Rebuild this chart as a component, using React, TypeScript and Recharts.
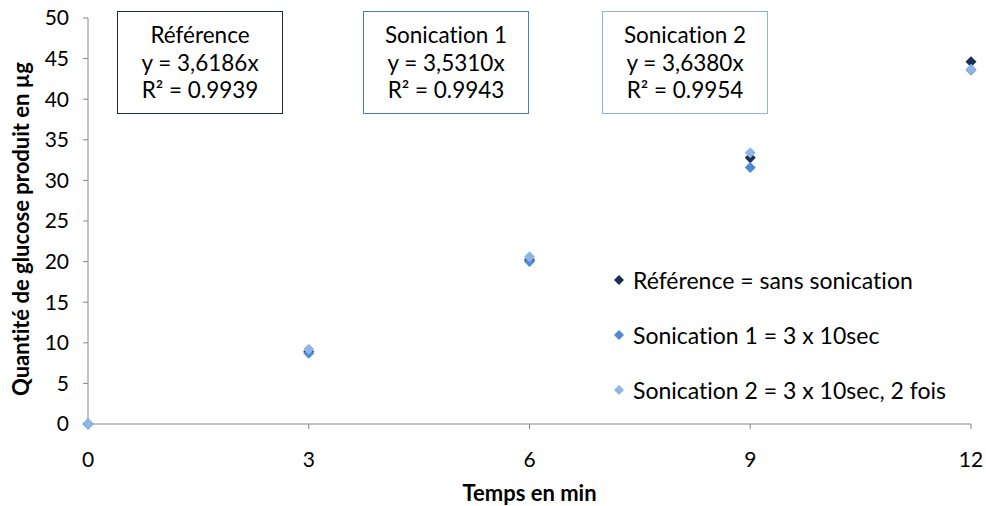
import React from 'react';
import { ScatterChart, Scatter, XAxis, YAxis } from 'recharts';

const times = [0, 3, 6, 9, 12];
const referenceValues = [0, 8.9, 20.2, 32.8, 44.6];
const sonication1Values = [0, 8.7, 20.0, 31.6, 43.6];
const sonication2Values = [0, 9.2, 20.6, 33.4, 43.7];
const xTicks = [0, 3, 6, 9, 12];
const yTicks = [0, 5, 10, 15, 20, 25, 30, 35, 40, 45, 50];

const seriesNames = [
  'Référence = sans sonication',
  'Sonication 1 = 3 x 10sec',
  'Sonication 2 = 3 x 10sec, 2 fois',
];
const seriesColors = ['#17305a', '#4f88d6', '#8fb5e4'];

const boxes = [
  { title: 'Référence', eq: 'y = 3,6186x', r2: 'R² = 0.9939', border: '#1f2a3c', left: 117 },
  { title: 'Sonication 1', eq: 'y = 3,5310x', r2: 'R² = 0.9943', border: '#4a7ebb', left: 363 },
  { title: 'Sonication 2', eq: 'y = 3,6380x', r2: 'R² = 0.9954', border: '#8db3e2', left: 602 },
];

const toPoints = (vals: number[]) => times.map((t, i) => ({ x: t, y: vals[i] }));

const FONT = 'Lato, "Open Sans", sans-serif';

const Diamond = (props: any) => {
  const { cx, cy, fill } = props;
  const r = 5.5;
  return (
    <polygon
      points={`${cx},${cy - r} ${cx + r},${cy} ${cx},${cy + r} ${cx - r},${cy}`}
      fill={fill}
    />
  );
};

export default function App() {
  const allSeries = [referenceValues, sonication1Values, sonication2Values];
  return (
    <div
      style={{
        position: 'absolute',
        left: 0,
        top: 0,
        width: 986,
        height: 506,
        background: '#fff',
        fontVariantLigatures: 'none',
      }}
    >
      <ScatterChart width={986} height={506} margin={{ top: 18, right: 15, bottom: 0, left: 0 }}>
        <XAxis
          type="number"
          dataKey="x"
          domain={[0, 12]}
          ticks={xTicks}
          interval={0}
          height={82}
          axisLine={{ stroke: '#868686' }}
          tickLine={{ stroke: '#868686' }}
          tickSize={5}
          tickMargin={23}
          tick={{ fill: '#000', fontSize: 21, fontFamily: FONT }}
          label={{
            value: 'Temps en min',
            position: 'insideBottom',
            offset: 5,
            style: { fill: '#000', fontSize: 22, fontWeight: 'bold', fontFamily: FONT },
          }}
        />
        <YAxis
          type="number"
          dataKey="y"
          domain={[0, 50]}
          ticks={yTicks}
          interval={0}
          width={88}
          axisLine={{ stroke: '#868686' }}
          tickLine={{ stroke: '#868686' }}
          tickSize={5}
          tickMargin={14}
          tick={{ fill: '#000', fontSize: 21, fontFamily: FONT }}
          label={{
            content: (p: any) => {
              const vb = p.viewBox || { x: 0, y: 18, width: 88, height: 406 };
              const cx = 20;
              const cy = vb.y + vb.height / 2 + 8;
              return (
                <text
                  x={cx}
                  y={cy}
                  transform={`rotate(-90 ${cx} ${cy})`}
                  textAnchor="middle"
                  dominantBaseline="central"
                  style={{ fill: '#000', fontSize: 22, fontWeight: 'bold', fontFamily: FONT }}
                >
                  Quantité de glucose produit en µg
                </text>
              );
            },
          }}
        />
        {allSeries.map((vals, i) => (
          <Scatter
            key={i}
            name={seriesNames[i]}
            data={toPoints(vals)}
            fill={seriesColors[i]}
            shape={<Diamond />}
            isAnimationActive={false}
          />
        ))}
      </ScatterChart>
      <div
        style={{
          position: 'absolute',
          left: 612,
          top: 252,
          fontFamily: FONT,
          fontSize: 23,
          color: '#000',
        }}
      >
        {seriesNames.map((n, i) => (
          <div key={i} style={{ display: 'flex', alignItems: 'center', height: 55 }}>
            <svg width={14} height={14} style={{ marginRight: 7 }}>
              <polygon points="7,2 12,7 7,12 2,7" fill={seriesColors[i]} />
            </svg>
            <span>{n}</span>
          </div>
        ))}
      </div>
      {boxes.map((b, i) => (
        <div
          key={i}
          style={{
            position: 'absolute',
            left: b.left,
            top: 11,
            width: 166,
            height: 103,
            boxSizing: 'border-box',
            border: `1.5px solid ${b.border}`,
            background: '#fff',
            fontFamily: FONT,
            fontSize: 22.5,
            color: '#000',
            display: 'flex',
            flexDirection: 'column',
            alignItems: 'center',
            justifyContent: 'center',
            lineHeight: '27.5px',
          }}
        >
          <div>{b.title}</div>
          <div>{b.eq}</div>
          <div>{b.r2}</div>
        </div>
      ))}
    </div>
  );
}
